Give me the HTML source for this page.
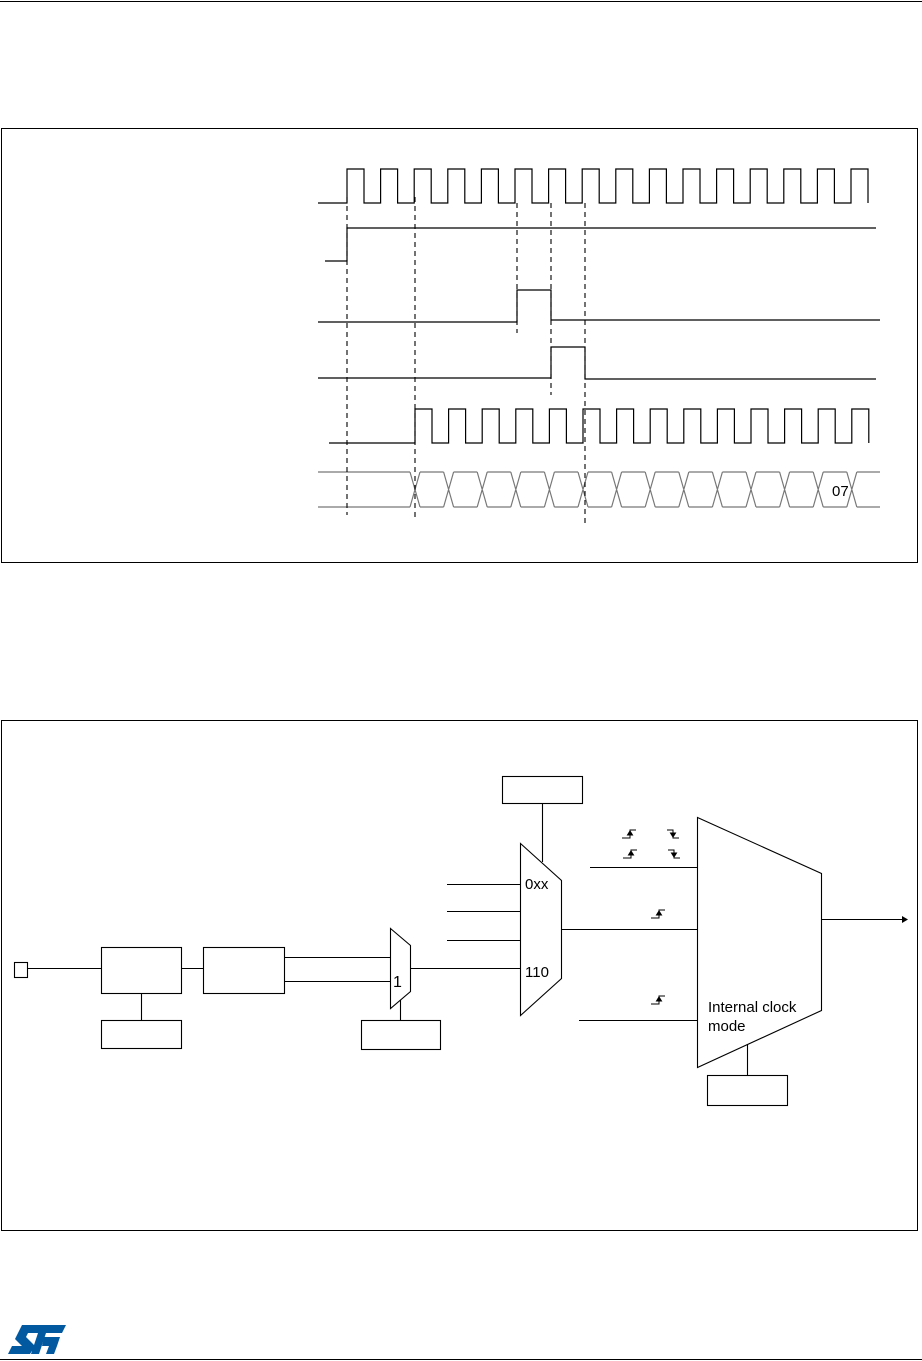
<!DOCTYPE html>
<html><head><style>
html,body{margin:0;padding:0;background:#fff;}
svg{display:block;font-family:"Liberation Sans",Arial,sans-serif;}
</style></head><body>
<svg id="s" width="922" height="1361" viewBox="0 0 922 1361" xmlns="http://www.w3.org/2000/svg">
<line x1="0" y1="1.5" x2="922" y2="1.5" stroke="#000" stroke-width="1"/>
<rect x="1.5" y="128.5" width="916" height="434" fill="none" stroke="#000"/>
<rect x="1.5" y="720.5" width="916" height="510" fill="none" stroke="#000"/>
<line x1="0" y1="1359.5" x2="922" y2="1359.5" stroke="#000"/>
<g id="tim" fill="none" stroke="#000" stroke-width="1.2"></g>
<g stroke="#000" stroke-width="1.1" stroke-dasharray="5,4" fill="none">
<line x1="347" y1="197" x2="347" y2="515"/>
<line x1="415" y1="197" x2="415" y2="521"/>
<line x1="517" y1="203" x2="517" y2="333"/>
<line x1="551" y1="203" x2="551" y2="395"/>
<line x1="585" y1="203" x2="585" y2="525"/>
</g>
<text x="832" y="496" font-size="15">07</text>
<g fill="none" stroke="#000" stroke-width="1.1">
<rect x="14.5" y="962.5" width="13" height="15"/>
<line x1="28" y1="968.5" x2="101" y2="968.5"/>
<rect x="101.5" y="947.5" width="80" height="46"/>
<rect x="101.5" y="1020.5" width="80" height="28"/>
<line x1="141.5" y1="993" x2="141.5" y2="1020"/>
<line x1="181" y1="968.5" x2="203" y2="968.5"/>
<rect x="203.5" y="947.5" width="81" height="46"/>
<line x1="284" y1="957.5" x2="390" y2="957.5"/>
<line x1="284" y1="981.5" x2="390" y2="981.5"/>
<polygon points="390.5,928.5 410.5,945.5 410.5,991.5 390.5,1008.5"/>
<rect x="361.5" y="1020.5" width="79" height="29"/>
<line x1="400.5" y1="1000" x2="400.5" y2="1020"/>
<line x1="411" y1="968.5" x2="520" y2="968.5"/>
<polygon points="520.5,843.5 561.5,880.5 561.5,978.5 520.5,1015.5"/>
<line x1="447" y1="884.5" x2="520" y2="884.5"/>
<line x1="447" y1="911.5" x2="520" y2="911.5"/>
<line x1="447" y1="940.5" x2="520" y2="940.5"/>
<rect x="502.5" y="776.5" width="80" height="27"/>
<line x1="542.5" y1="803" x2="542.5" y2="862"/>
<line x1="561" y1="929.5" x2="697" y2="929.5"/>
<polygon points="697.5,817.5 821.5,873.5 821.5,1010.5 697.5,1067.5"/>
<line x1="590" y1="867.5" x2="697" y2="867.5"/>
<line x1="579" y1="1020.5" x2="697" y2="1020.5"/>
<line x1="821" y1="919.5" x2="902" y2="919.5"/>
<rect x="707.5" y="1075.5" width="80" height="30"/>
<line x1="747.5" y1="1044" x2="747.5" y2="1075"/>
</g>
<polygon points="902,916 908,919.5 902,923" fill="#000"/>
<g id="edges" fill="none" stroke="#000" stroke-width="1"></g>
<g font-size="15" fill="#000">
<text x="393" y="987" font-size="16">1</text>
<text x="525" y="889">0xx</text>
<text x="525" y="977">110</text>
<text x="708" y="1012">Internal clock</text>
<text x="708" y="1031">mode</text>
</g>
<g fill="#03599f">
<polygon points="22,1325 66,1325 62,1333 46,1333 39,1354 31,1354 38,1333 28,1333 26,1337 35,1346 30,1354 8,1354 12,1346 22,1346 15,1339"/>
<polygon points="44,1337 60,1337 57,1346 54,1354 46,1354 49,1346 42,1346"/>
</g>
</svg>
<script>
var g=document.getElementById('tim');
function P(d,w,c){var p=document.createElementNS('http://www.w3.org/2000/svg','path');p.setAttribute('d',d);if(c)p.setAttribute('stroke',c);if(w)p.setAttribute('stroke-width',w);g.appendChild(p);}
var per=33.6,d='M318,203 ';
for(var k=0;k<16;k++){var x=347+k*per;if(x>874)break;d+='L'+x+',203 L'+x+',169 L'+Math.min(x+17,873)+',169 ';if(x+17<873)d+='L'+(x+17)+',203 ';}
P(d);
P('M325,261 L347,261 L347,228 L876,228');
P('M318,322 L517,322 L517,290 L551,290 L551,320 L880,320');
P('M318,378 L551,378 L551,347 L585,347 L585,379 L876,379');
d='M329,443 ';
for(var k=0;k<14;k++){var x=415+k*per;if(x>870)break;d+='L'+x+',443 L'+x+',409 L'+Math.min(x+17,870)+',409 ';if(x+17<870)d+='L'+(x+17)+',443 ';}
P(d);
var b='M318,472 L410,472 M318,507 L410,507 ';
for(var k=0;k<14;k++){var x=415+k*per;var nx=x+per;if(nx>880)nx=885;
b+='M'+(x-5)+',472 L'+(x+5)+',507 M'+(x-5)+',507 L'+(x+5)+',472 ';
b+='M'+(x+5)+',472 L'+Math.min(nx-5,880)+',472 M'+(x+5)+',507 L'+Math.min(nx-5,880)+',507 ';
if(nx>=880)break;}
P(b,1.2,'#777');
var e=document.getElementById('edges');
function E(x,y,up){var p=document.createElementNS('http://www.w3.org/2000/svg','path');
var d=up?('M'+(x-8)+','+(y+8)+' L'+x+','+(y+8)+' L'+x+','+y+' L'+(x+6)+','+y):('M'+(x-6)+','+y+' L'+x+','+y+' L'+x+','+(y+8)+' L'+(x+6)+','+(y+8));
p.setAttribute('d',d);e.appendChild(p);
var a=document.createElementNS('http://www.w3.org/2000/svg','polygon');
a.setAttribute('points',up?(x-2.5)+','+(y+5)+' '+(x+2.5)+','+(y+5)+' '+x+','+(y+1):(x-2.5)+','+(y+3)+' '+(x+2.5)+','+(y+3)+' '+x+','+(y+7));
a.setAttribute('fill','#000');e.appendChild(a);}
E(630,830,true);E(673,830,false);E(631,850,true);E(674,850,false);E(659,910,true);E(659,996,true);
</script>
</body></html>
